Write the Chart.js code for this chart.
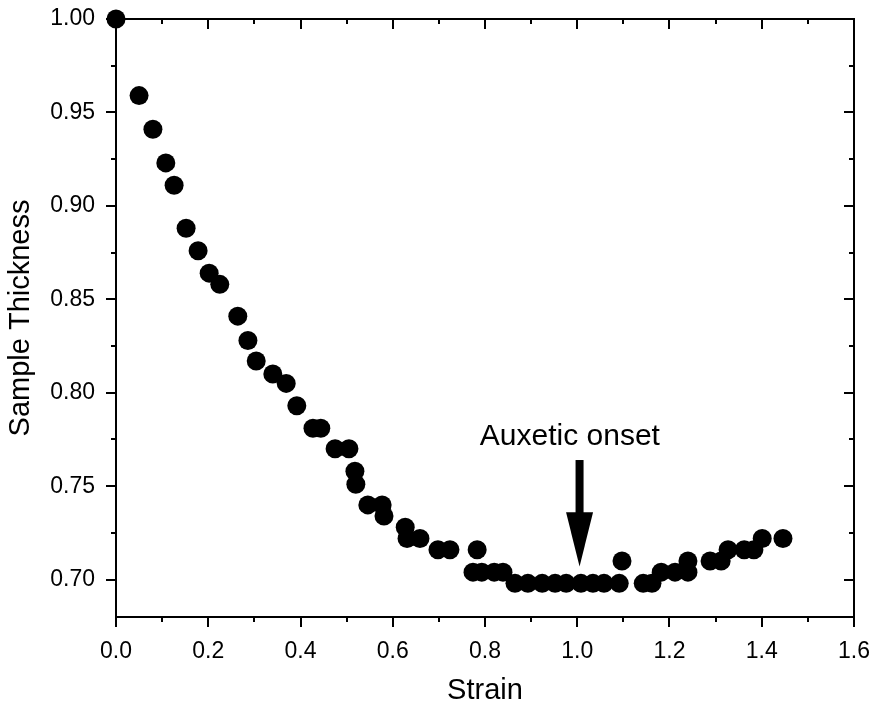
<!DOCTYPE html>
<html>
<head>
<meta charset="utf-8">
<script src="https://cdn.jsdelivr.net/npm/chart.js@4"></script>
<style>
  html, body { margin: 0; padding: 0; background: #fff; }
  #wrap { width: 878px; height: 708px; }
</style>
</head>
<body>
<div id="wrap"><canvas id="plot" width="878" height="708"></canvas></div>
<script>
var strain = [0.000, 0.050, 0.080, 0.108, 0.126, 0.152, 0.178, 0.202, 0.225, 0.264,
  0.286, 0.304, 0.340, 0.369, 0.392, 0.427, 0.444, 0.475, 0.505, 0.518,
  0.520, 0.546, 0.577, 0.581, 0.627, 0.631, 0.659, 0.698, 0.724, 0.783,
  0.774, 0.793, 0.820, 0.839, 0.865, 0.893, 0.924, 0.952, 0.976, 1.008,
  1.034, 1.058, 1.091, 1.097, 1.143, 1.162, 1.182, 1.212, 1.240, 1.240,
  1.288, 1.312, 1.327, 1.362, 1.383, 1.401, 1.446];
var thickness = [1.000, 0.959, 0.941, 0.923, 0.911, 0.888, 0.876, 0.864, 0.858, 0.841,
  0.828, 0.817, 0.810, 0.805, 0.793, 0.781, 0.781, 0.770, 0.770, 0.758,
  0.751, 0.740, 0.740, 0.734, 0.728, 0.722, 0.722, 0.716, 0.716, 0.716,
  0.704, 0.704, 0.704, 0.704, 0.698, 0.698, 0.698, 0.698, 0.698, 0.698,
  0.698, 0.698, 0.698, 0.710, 0.698, 0.698, 0.704, 0.704, 0.704, 0.710,
  0.710, 0.710, 0.716, 0.716, 0.716, 0.722, 0.722];

var xTicks = [0, 0.2, 0.4, 0.6, 0.8, 1.0, 1.2, 1.4, 1.6];
var xMinor = [0.1, 0.3, 0.5, 0.7, 0.9, 1.1, 1.3, 1.5];
var yTicks = [0.70, 0.75, 0.80, 0.85, 0.90, 0.95, 1.00];
var yMinor = [0.725, 0.775, 0.825, 0.875, 0.925, 0.975];

var note = "Auxetic onset";
var noteAt = [0.984, 0.772];
var arrowX = 1.005;
var arrowY = [0.764, 0.736, 0.707]; // shaft top, head base, tip

var frame = {
  id: "frame",
  afterDatasetsDraw: function (chart) {
    var c = chart.ctx, a = chart.chartArea;
    var xs = chart.scales.x, ys = chart.scales.y;
    c.save();
    c.strokeStyle = "#000";
    c.lineWidth = 2;
    c.beginPath();
    c.rect(a.left, a.top, a.right - a.left, a.bottom - a.top);
    c.stroke();
    c.beginPath();
    xTicks.forEach(function (v) {
      var p = Math.round(xs.getPixelForValue(v));
      c.moveTo(p, a.bottom); c.lineTo(p, a.bottom + 10);
      c.moveTo(p, a.top); c.lineTo(p, a.top + 10);
    });
    xMinor.forEach(function (v) {
      var p = Math.round(xs.getPixelForValue(v));
      c.moveTo(p, a.bottom); c.lineTo(p, a.bottom + 5);
      c.moveTo(p, a.top); c.lineTo(p, a.top + 5);
    });
    yTicks.forEach(function (v) {
      var p = Math.round(ys.getPixelForValue(v));
      c.moveTo(a.left, p); c.lineTo(a.left - 10, p);
      c.moveTo(a.right, p); c.lineTo(a.right - 10, p);
    });
    yMinor.forEach(function (v) {
      var p = Math.round(ys.getPixelForValue(v));
      c.moveTo(a.left, p); c.lineTo(a.left - 5, p);
      c.moveTo(a.right, p); c.lineTo(a.right - 5, p);
    });
    c.stroke();

    // annotation
    c.fillStyle = "#000";
    c.font = "30px 'Liberation Sans', Arial, sans-serif";
    c.textAlign = "center";
    c.textBaseline = "alphabetic";
    c.fillText(note, xs.getPixelForValue(noteAt[0]), ys.getPixelForValue(noteAt[1]));

    var ax = xs.getPixelForValue(arrowX);
    var y0 = ys.getPixelForValue(arrowY[0]);
    var y1 = ys.getPixelForValue(arrowY[1]);
    var y2 = ys.getPixelForValue(arrowY[2]);
    c.fillRect(ax - 4, y0, 8, y1 - y0 + 1);
    c.beginPath();
    c.moveTo(ax - 13.5, y1);
    c.lineTo(ax + 13.5, y1);
    c.lineTo(ax, y2);
    c.closePath();
    c.fill();
    c.restore();
  }
};

new Chart(document.getElementById("plot").getContext("2d"), {
  type: "scatter",
  data: {
    datasets: [{
      label: "Sample Thickness",
      data: strain.map(function (s, i) { return { x: s, y: thickness[i] }; }),
      backgroundColor: "#000",
      borderColor: "#000",
      borderWidth: 0,
      pointRadius: 9.5,
      pointHoverRadius: 9.5,
      clip: false
    }]
  },
  options: {
    responsive: false,
    animation: false,
    events: [],
    layout: { padding: { top: 19, right: 24, left: 0, bottom: 0 } },
    plugins: { legend: { display: false }, tooltip: { enabled: false } },
    scales: {
      x: {
        type: "linear",
        min: 0, max: 1.6,
        afterBuildTicks: function (s) { s.ticks = xTicks.map(function (v) { return { value: v }; }); },
        afterFit: function (s) { s.height = 91; s.paddingLeft = 0; s.paddingRight = 0; },
        grid: { display: false, drawTicks: false },
        border: { display: false },
        ticks: {
          padding: 21,
          color: "#000",
          maxRotation: 0,
          font: { family: "'Liberation Sans', Arial, sans-serif", size: 23 },
          callback: function (v) { return Number(v).toFixed(1); }
        },
        title: {
          display: true, text: "Strain", color: "#000",
          font: { family: "'Liberation Sans', Arial, sans-serif", size: 29 },
          padding: { top: 0, bottom: 0 }
        }
      },
      y: {
        type: "linear",
        min: 0.68, max: 1.0,
        afterBuildTicks: function (s) { s.ticks = yTicks.map(function (v) { return { value: v }; }); },
        afterFit: function (s) { s.width = 116; s.paddingTop = 0; s.paddingBottom = 0; },
        grid: { display: false, drawTicks: false },
        border: { display: false },
        ticks: {
          padding: 21,
          color: "#000",
          font: { family: "'Liberation Sans', Arial, sans-serif", size: 23 },
          callback: function (v) { return Number(v).toFixed(2); }
        },
        title: {
          display: true, text: "Sample Thickness", color: "#000",
          font: { family: "'Liberation Sans', Arial, sans-serif", size: 29 },
          padding: { top: 4, bottom: 0 }
        }
      }
    }
  },
  plugins: [frame]
});
</script>
</body>
</html>
